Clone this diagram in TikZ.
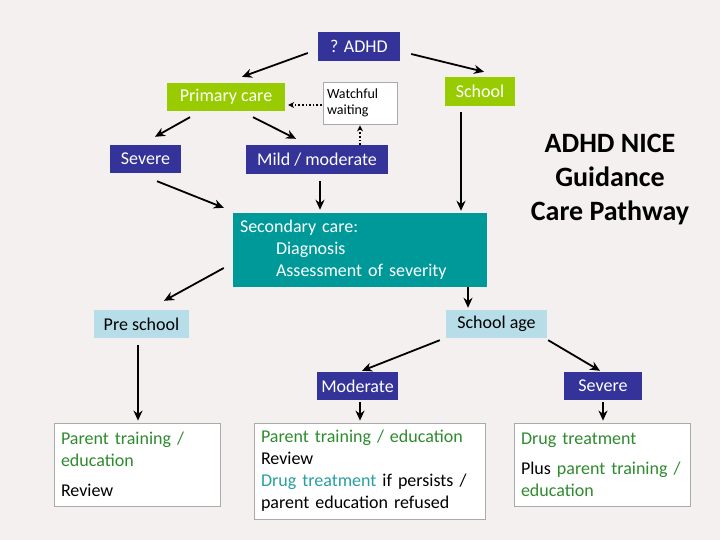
\documentclass[tikz,border=0pt]{standalone}
\usepackage{fontspec}
\setmainfont{Carlito}
\usetikzlibrary{arrows.meta}
\definecolor{bg}{RGB}{243,240,239}
\definecolor{dblue}{RGB}{51,51,153}
\definecolor{lime}{RGB}{153,204,0}
\definecolor{teal1}{RGB}{0,153,153}
\definecolor{lblue}{RGB}{183,222,232}
\definecolor{gtext}{RGB}{46,139,46}
\definecolor{ttext}{RGB}{40,160,160}
\definecolor{bord}{RGB}{170,170,170}
\tikzset{
  bx/.style={inner sep=0pt, font=\fontsize{18}{22}\selectfont},
  bluebox/.style={bx, fill=dblue, text=white},
  limebox/.style={bx, fill=lime, text=white},
  lbbox/.style={bx, fill=lblue, text=black},
  whitebox/.style={bx, fill=white, draw=bord, line width=0.8pt, align=left, inner xsep=7pt,
     font=\fontsize{18}{22}\selectfont},
  arr/.style={line width=1.8pt, -{Stealth[length=10pt,width=9pt]}},
  darr/.style={line width=1.6pt, dotted, -{Stealth[length=6pt,width=6pt]}},
}
\begin{document}
\begin{tikzpicture}[x=1pt,y=-1pt]
\useasboundingbox (0,0) rectangle (720,540);
\fill[bg] (0,0) rectangle (720,540);

\node[bluebox, minimum width=82pt, minimum height=29pt] (adhd) at (359,46.5) {? ADHD};
\node[limebox, minimum width=118pt, minimum height=28pt] (primary) at (226,97) {Primary care};
\node[bx, fill=white, draw=bord, line width=0.8pt, minimum width=74pt, minimum height=42pt,
      text width=66pt, align=left, font=\fontsize{14}{16}\selectfont] (watch) at (360,103) {Watchful\\waiting};
\node[limebox, minimum width=70pt, minimum height=29pt] (school) at (480,91.5) {School};
\node[bluebox, minimum width=71pt, minimum height=28pt] (sevL) at (145.5,159) {Severe};
\node[bluebox, minimum width=142pt, minimum height=29pt] (mild) at (317,159.5) {Mild / moderate};
\node[bx, fill=teal1, text=white, minimum width=254pt, minimum height=74pt,
      text width=240pt, align=left, font=\fontsize{18}{22}\selectfont] (second) at (360,250)
  {Secondary care:\\\hspace*{36pt}Diagnosis\\\hspace*{36pt}Assessment of severity};
\node[lbbox, minimum width=95pt, minimum height=28pt] (pre) at (141.5,324) {Pre school};
\node[lbbox, minimum width=101pt, minimum height=28pt] (schage) at (496.5,324) {School age};
\node[bluebox, minimum width=81pt, minimum height=28pt] (mod) at (357.5,386) {Moderate};
\node[bluebox, minimum width=78pt, minimum height=28pt] (sevR) at (603,386) {Severe};

\node[whitebox, minimum width=166pt, minimum height=83pt, text width=152pt] (bl) at (137,464.5)
  {\textcolor{gtext}{Parent training /}\\\textcolor{gtext}{education}\\[8pt]Review};
\node[whitebox, minimum width=231pt, minimum height=96pt, text width=217pt] (bm) at (369.5,471)
  {\textcolor{gtext}{Parent training / education}\\Review\\\textcolor{ttext}{Drug treatment} if persists /\\parent education refused};
\node[whitebox, minimum width=176pt, minimum height=83pt, text width=162pt] (br) at (602,464.5)
  {\textcolor{gtext}{Drug treatment}\\[8pt]Plus \textcolor{gtext}{parent training /}\\\textcolor{gtext}{education}};

\node[font=\fontsize{28}{34}\selectfont\bfseries, align=center] (title) at (610,180)
  {ADHD NICE\\Guidance\\Care Pathway};

\draw[arr] ([xshift=-10pt,yshift=-6.5pt]adhd.west) -- ([xshift=16pt,yshift=6pt]primary.north);
\draw[arr] ([xshift=11pt,yshift=-7.5pt]adhd.east) -- ([xshift=4pt,yshift=5pt]school.north);
\draw[darr] ([xshift=-1pt,yshift=-2pt]watch.west) -- ([xshift=3pt,yshift=-8pt]primary.east);
\draw[darr] ([xshift=43pt]mild.north) -- ([yshift=-1pt]watch.south);
\draw[arr] ([xshift=-36pt,yshift=-6pt]primary.south) -- ([xshift=9.5pt,yshift=8pt]sevL.north);
\draw[arr] ([xshift=27pt,yshift=-6pt]primary.south) -- ([xshift=-21pt,yshift=6pt]mild.north);
\draw[arr] ([xshift=11.5pt,yshift=-8pt]sevL.south) -- ([xshift=-9pt,yshift=5pt]second.north west);
\draw[arr] ([xshift=3pt,yshift=-7pt]mild.south) -- ([xshift=-40pt,yshift=3pt]second.north);
\draw[arr] ([xshift=-19pt,yshift=-6pt]school.south) -- ([xshift=101pt,yshift=2pt]second.north);
\draw[arr] ([xshift=-9pt,yshift=-18pt]second.west) -- ([xshift=22.5pt,yshift=9pt]pre.north);
\draw[arr] ([xshift=108pt]second.south) -- ([xshift=-28.5pt,yshift=2pt]schage.north);
\draw[arr] ([xshift=-6pt,yshift=-2pt]schage.south west) -- ([xshift=4.5pt,yshift=1pt]mod.north);
\draw[arr] ([xshift=1pt,yshift=-2pt]schage.south east) -- ([xshift=-3pt,yshift=1pt]sevR.north);
\draw[arr] ([xshift=2.5pt,yshift=-2pt]mod.south) -- ([xshift=-9.5pt,yshift=2pt]bm.north);
\draw[arr] ([yshift=-2pt]sevR.south) -- ([xshift=1pt,yshift=2pt]br.north);
\draw[arr] ([xshift=-3.5pt,yshift=-7pt]pre.south) -- ([xshift=1pt,yshift=2pt]bl.north);
\end{tikzpicture}
\end{document}
